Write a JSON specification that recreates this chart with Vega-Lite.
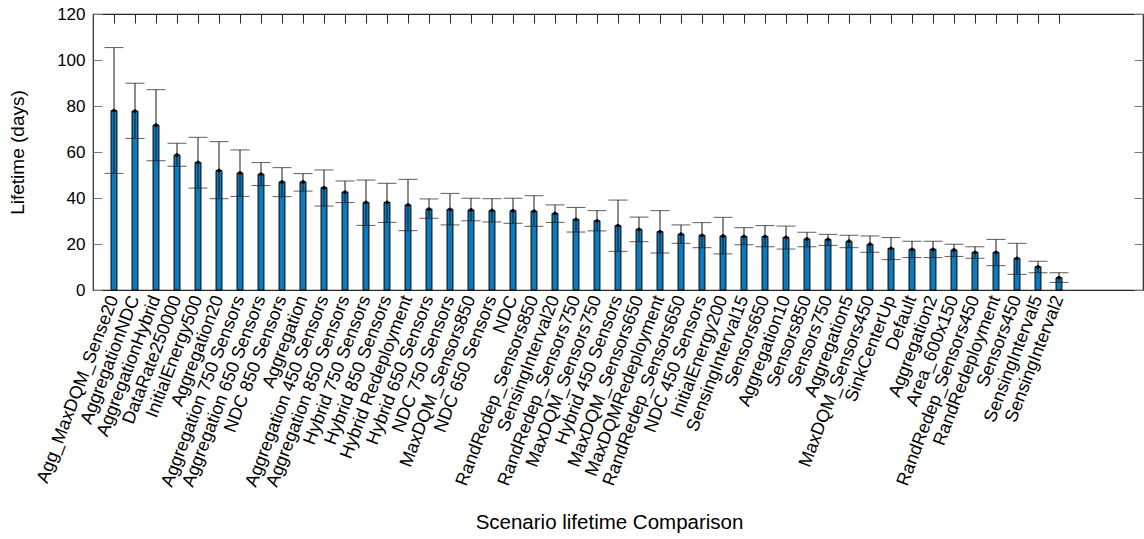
{
  "$schema": "https://vega.github.io/schema/vega-lite/v6.json",
  "autosize": "none",
  "width": 1050,
  "height": 276,
  "padding": {"left": 93, "top": 14, "right": 1, "bottom": 249},
  "background": "white",
  "config": {
    "font": "Liberation Sans",
    "view": {"stroke": "#262626", "strokeWidth": 1.2},
    "axis": {"grid": false, "labelColor": "black", "titleColor": "black", "titleFontWeight": "normal", "labelFont": "Liberation Sans", "titleFont": "Liberation Sans"}
  },
  "data": {
    "values": [
      {"name": "Agg_MaxDQM_Sense20", "mean": 78.0, "lo": 50.7, "hi": 105.4},
      {"name": "AggregationNDC", "mean": 77.8, "lo": 65.9, "hi": 89.9},
      {"name": "AggregationHybrid", "mean": 71.7, "lo": 56.2, "hi": 87.1},
      {"name": "DataRate250000", "mean": 58.7, "lo": 53.8, "hi": 63.8},
      {"name": "InitialEnergy500", "mean": 55.5, "lo": 44.3, "hi": 66.4},
      {"name": "Aggregation20", "mean": 52.0, "lo": 39.7, "hi": 64.5},
      {"name": "Aggregation 750 Sensors", "mean": 50.9, "lo": 40.7, "hi": 60.9},
      {"name": "Aggregation 650 Sensors", "mean": 50.4, "lo": 45.4, "hi": 55.4},
      {"name": "NDC 850 Sensors", "mean": 47.0, "lo": 40.6, "hi": 53.2},
      {"name": "Aggregation", "mean": 47.0, "lo": 43.0, "hi": 50.6},
      {"name": "Aggregation 450 Sensors", "mean": 44.5, "lo": 36.5, "hi": 52.2},
      {"name": "Aggregation 850 Sensors", "mean": 42.6, "lo": 38.0, "hi": 47.4},
      {"name": "Hybrid 750 Sensors", "mean": 38.1, "lo": 28.1, "hi": 47.8},
      {"name": "Hybrid 850 Sensors", "mean": 38.1, "lo": 29.4, "hi": 46.4},
      {"name": "Hybrid Redeployment", "mean": 37.0, "lo": 25.8, "hi": 48.1},
      {"name": "Hybrid 650 Sensors", "mean": 35.2, "lo": 31.2, "hi": 39.6},
      {"name": "NDC 750 Sensors", "mean": 35.1, "lo": 28.3, "hi": 42.0},
      {"name": "MaxDQM_Sensors850", "mean": 34.8, "lo": 30.1, "hi": 39.9},
      {"name": "NDC 650 Sensors", "mean": 34.6, "lo": 29.6, "hi": 39.7},
      {"name": "NDC", "mean": 34.5, "lo": 29.0, "hi": 39.9},
      {"name": "RandRedep_Sensors850", "mean": 34.3, "lo": 27.7, "hi": 41.0},
      {"name": "SensingInterval20", "mean": 33.3, "lo": 29.4, "hi": 37.0},
      {"name": "RandRedep_Sensors750", "mean": 30.7, "lo": 25.2, "hi": 35.9},
      {"name": "MaxDQM_Sensors750", "mean": 30.1, "lo": 25.7, "hi": 34.5},
      {"name": "Hybrid 450 Sensors", "mean": 28.0, "lo": 16.8, "hi": 39.1},
      {"name": "MaxDQM_Sensors650", "mean": 26.4, "lo": 21.0, "hi": 31.7},
      {"name": "MaxDQMRedeployment", "mean": 25.4, "lo": 16.1, "hi": 34.5},
      {"name": "RandRedep_Sensors650", "mean": 24.3, "lo": 20.3, "hi": 28.3},
      {"name": "NDC 450 Sensors", "mean": 23.8, "lo": 18.4, "hi": 29.3},
      {"name": "InitialEnergy200", "mean": 23.5, "lo": 15.7, "hi": 31.6},
      {"name": "SensingInterval15", "mean": 23.3, "lo": 19.7, "hi": 27.1},
      {"name": "Sensors650", "mean": 23.3, "lo": 18.8, "hi": 28.0},
      {"name": "Aggregation10", "mean": 22.9, "lo": 17.8, "hi": 27.8},
      {"name": "Sensors850", "mean": 22.2, "lo": 18.8, "hi": 25.1},
      {"name": "Sensors750", "mean": 22.0, "lo": 19.4, "hi": 24.2},
      {"name": "Aggregation5", "mean": 21.2, "lo": 18.4, "hi": 23.8},
      {"name": "MaxDQM_Sensors450", "mean": 19.9, "lo": 16.4, "hi": 23.5},
      {"name": "SinkCenterUp", "mean": 18.1, "lo": 13.2, "hi": 22.8},
      {"name": "Default", "mean": 17.7, "lo": 14.1, "hi": 21.2},
      {"name": "Aggregation2", "mean": 17.7, "lo": 14.1, "hi": 21.2},
      {"name": "Area_600x150", "mean": 17.4, "lo": 14.6, "hi": 19.9},
      {"name": "RandRedep_Sensors450", "mean": 16.4, "lo": 13.8, "hi": 18.8},
      {"name": "RandRedeployment", "mean": 16.4, "lo": 10.6, "hi": 22.0},
      {"name": "Sensors450", "mean": 13.8, "lo": 6.8, "hi": 20.3},
      {"name": "SensingInterval5", "mean": 10.1, "lo": 7.5, "hi": 12.5},
      {"name": "SensingInterval2", "mean": 5.4, "lo": 3.3, "hi": 7.5}
    ]
  },
  "layer": [
    {
      "mark": {"type": "bar", "fill": "#0B7BC0", "stroke": "black", "strokeWidth": 1},
      "encoding": {
        "x": {
          "field": "name", "type": "nominal", "sort": null,
          "scale": {"type": "band", "paddingInner": 0.72, "paddingOuter": 0.86, "align": 0.5, "rangeMax": 987},
          "axis": {
            "orient": "bottom", "title": "Scenario lifetime Comparison",
            "labelAngle": -69, "labelAlign": "right", "labelBaseline": "middle",
            "labelFontSize": 18, "labelPadding": 6, "labelLimit": 0, "labelOverlap": false,
            "ticks": false, "domain": false,
            "titleFontSize": 20.5, "titleBaseline": "alphabetic", "titleY": 238, "titleX": 516
          }
        },
        "y": {
          "field": "mean", "type": "quantitative",
          "scale": {"domain": [0, 120], "nice": false},
          "axis": {
            "orient": "left", "values": [0, 20, 40, 60, 80, 100, 120],
            "tickSize": -9, "tickColor": "#7a7a7a", "labelPadding": 17,
            "labelFontSize": 17, "domain": false,
            "title": "Lifetime (days)", "titleFontSize": 19, "titleX": -76, "titleBaseline": "middle"
          }
        }
      }
    },
    {
      "mark": {"type": "rule", "color": "#1a1a1a", "strokeWidth": 1},
      "encoding": {
        "x": {
          "field": "name", "type": "nominal", "sort": null,
          "scale": {"type": "band", "paddingInner": 0.72, "paddingOuter": 0.86, "align": 0.5, "rangeMax": 987},
          "axis": {"orient": "top", "labels": false, "domain": false, "ticks": true, "tickSize": -9, "tickColor": "#262626", "title": null}
        },
        "y": {
          "field": "lo", "type": "quantitative",
          "scale": {"domain": [0, 120], "nice": false},
          "axis": {"orient": "right", "labels": false, "domain": false, "values": [0, 20, 40, 60, 80, 100, 120], "tickSize": -9, "tickColor": "#7a7a7a", "title": null}
        },
        "y2": {"field": "hi"}
      }
    },
    {
      "mark": {"type": "tick", "color": "#1a1a1a", "size": 19, "thickness": 1},
      "encoding": {
        "x": {"field": "name", "type": "nominal", "sort": null, "axis": null},
        "y": {"field": "lo", "type": "quantitative", "axis": null}
      }
    },
    {
      "mark": {"type": "tick", "color": "#1a1a1a", "size": 19, "thickness": 1},
      "encoding": {
        "x": {"field": "name", "type": "nominal", "sort": null, "axis": null},
        "y": {"field": "hi", "type": "quantitative", "axis": null}
      }
    },
    {
      "mark": {"type": "point", "filled": true, "color": "black", "size": 14, "opacity": 1},
      "encoding": {
        "x": {"field": "name", "type": "nominal", "sort": null, "axis": null},
        "y": {"field": "mean", "type": "quantitative", "axis": null}
      }
    }
  ],
  "resolve": {"axis": {"x": "independent", "y": "independent"}}
}
